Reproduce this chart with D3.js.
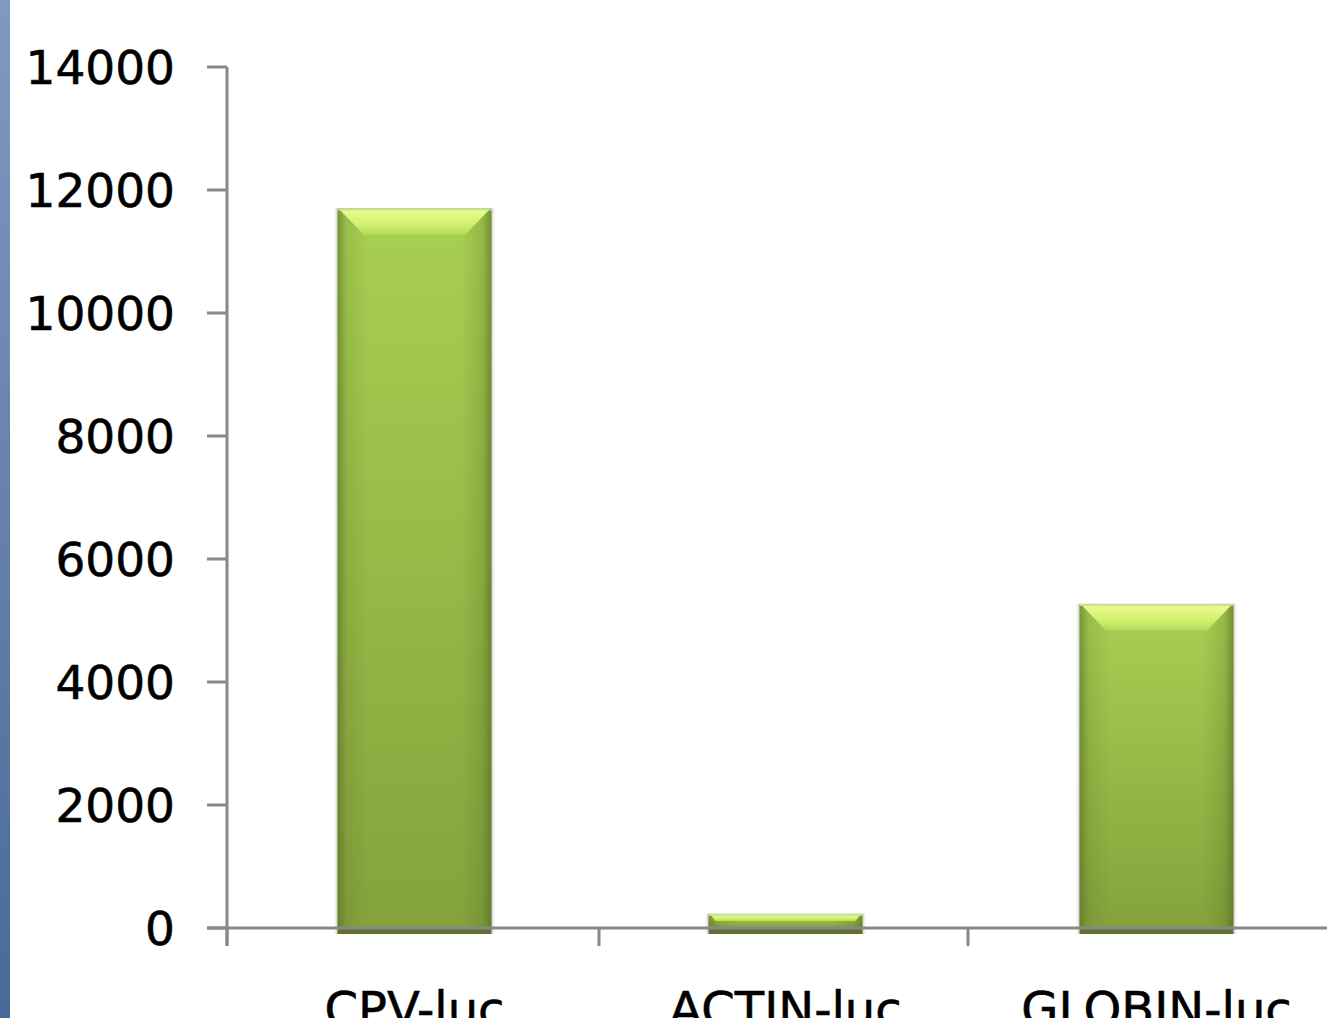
<!DOCTYPE html>
<html>
<head>
<meta charset="utf-8">
<script src="https://cdn.jsdelivr.net/npm/d3@7"></script>
<style>
  html, body { margin: 0; padding: 0; background: #ffffff; overflow: hidden; }
  svg { display: block; }
  text { font-family: "DejaVu Sans", Verdana, sans-serif; }
</style>
</head>
<body>
<svg id="chart" width="1327" height="1018"></svg>
<script>
// Luciferase reporter activity per construct
const categories = ["CPV-luc", "ACTIN-luc", "GLOBIN-luc"];
const values = [11700, 230, 5270];
const yTicks = [0, 2000, 4000, 6000, 8000, 10000, 12000, 14000];

const W = 1327, H = 1018;
const svg = d3.select("#chart");
const defs = svg.append("defs");

// Left slide-edge strip
const stripGrad = defs.append("linearGradient").attr("id", "strip")
  .attr("x1", 0).attr("y1", 0).attr("x2", 0).attr("y2", 1);
stripGrad.append("stop").attr("offset", "0%").attr("stop-color", "#8199c0");
stripGrad.append("stop").attr("offset", "100%").attr("stop-color", "#4a6998");
svg.append("rect").attr("x", 0).attr("y", 0).attr("width", 10).attr("height", H)
  .attr("fill", "url(#strip)");

// Bar fills
const vGrad = defs.append("linearGradient").attr("id", "barV")
  .attr("x1", 0).attr("y1", 0).attr("x2", 0).attr("y2", 1);
vGrad.append("stop").attr("offset", "0%").attr("stop-color", "#a8d052");
vGrad.append("stop").attr("offset", "100%").attr("stop-color", "#84a23c");
const hGrad = defs.append("linearGradient").attr("id", "barH")
  .attr("x1", 0).attr("y1", 0).attr("x2", 1).attr("y2", 0);
hGrad.append("stop").attr("offset", "0%").attr("stop-color", "#4e6420").attr("stop-opacity", 0.55);
hGrad.append("stop").attr("offset", "6%").attr("stop-color", "#4e6420").attr("stop-opacity", 0.15);
hGrad.append("stop").attr("offset", "20%").attr("stop-color", "#4e6420").attr("stop-opacity", 0);
hGrad.append("stop").attr("offset", "80%").attr("stop-color", "#4e6420").attr("stop-opacity", 0);
hGrad.append("stop").attr("offset", "94%").attr("stop-color", "#4e6420").attr("stop-opacity", 0.2);
hGrad.append("stop").attr("offset", "100%").attr("stop-color", "#4e6420").attr("stop-opacity", 0.6);
const bevelGrad = defs.append("linearGradient").attr("id", "bevel")
  .attr("x1", 0).attr("y1", 0).attr("x2", 0).attr("y2", 1);
bevelGrad.append("stop").attr("offset", "0%").attr("stop-color", "#eefc90");
bevelGrad.append("stop").attr("offset", "60%").attr("stop-color", "#d2f070");
bevelGrad.append("stop").attr("offset", "100%").attr("stop-color", "#b4dc5a");

// Scales
const x = d3.scaleBand().domain(categories).range([229, 229 + 3 * 371])
  .paddingInner(0.585).paddingOuter(0.2925);
const y = d3.scaleLinear().domain([0, 14000]).range([928, 67]);

const axisColor = "#888888";
const base = y(0);

// Bars
const bars = svg.append("g");
categories.forEach((c, i) => {
  const x0 = x(c), w = x.bandwidth();
  const yt = y(values[i]);
  const h = base - yt;
  const g = bars.append("g");
  // soft side shadow
  g.append("rect").attr("x", x0 - 3).attr("y", yt).attr("width", w + 6).attr("height", h + 6)
    .attr("fill", "#000").attr("opacity", 0.06);
  g.append("rect").attr("x", x0 - 1.5).attr("y", yt).attr("width", w + 3).attr("height", h + 6)
    .attr("fill", "#000").attr("opacity", 0.08);
  // body
  g.append("rect").attr("x", x0).attr("y", yt).attr("width", w).attr("height", h)
    .attr("fill", "url(#barV)");
  g.append("rect").attr("x", x0).attr("y", yt).attr("width", w).attr("height", h)
    .attr("fill", "url(#barH)");
  // top bevel
  const d = Math.min(26, h * 0.5);
  g.append("polygon")
    .attr("points", [[x0 + 2, yt + 1], [x0 + w - 2, yt + 1], [x0 + w - d, yt + d], [x0 + d, yt + d]].map(p => p.join(",")).join(" "))
    .attr("fill", "url(#bevel)");
  g.append("rect").attr("x", x0).attr("y", yt).attr("width", w).attr("height", 2)
    .attr("fill", "#c8e09c");
  // dark base below the axis
  g.append("rect").attr("x", x0).attr("y", base).attr("width", w).attr("height", 6)
    .attr("fill", "#5d7130");
});

// Y axis
const yAxis = svg.append("g");
yAxis.append("line")
  .attr("x1", 227).attr("x2", 227).attr("y1", y(14000)).attr("y2", base + 18)
  .attr("stroke", axisColor).attr("stroke-width", 3);
yAxis.selectAll("line.tick").data(yTicks).join("line").attr("class", "tick")
  .attr("x1", 207).attr("x2", 227).attr("y1", d => y(d)).attr("y2", d => y(d))
  .attr("stroke", axisColor).attr("stroke-width", 3);
yAxis.selectAll("text").data(yTicks).join("text")
  .attr("x", 175).attr("y", d => y(d)).attr("dy", "0.37em")
  .attr("text-anchor", "end").attr("font-size", 47).attr("fill", "#000")
  .attr("stroke", "#000").attr("stroke-width", 0.6)
  .text(d => d);

// X axis
const xAxis = svg.append("g");
xAxis.append("line")
  .attr("x1", 207).attr("x2", W).attr("y1", base).attr("y2", base)
  .attr("stroke", axisColor).attr("stroke-width", 3);
const bounds = [227, 599, 968];
xAxis.selectAll("line.tick").data(bounds).join("line").attr("class", "tick")
  .attr("x1", d => d).attr("x2", d => d).attr("y1", base).attr("y2", base + 18)
  .attr("stroke", axisColor).attr("stroke-width", 3);
xAxis.selectAll("text").data(categories).join("text")
  .attr("x", c => x(c) + x.bandwidth() / 2).attr("y", 1026)
  .attr("text-anchor", "middle").attr("font-size", 48).attr("fill", "#000")
  .attr("stroke", "#000").attr("stroke-width", 0.6)
  .text(c => c);
</script>
</body>
</html>
